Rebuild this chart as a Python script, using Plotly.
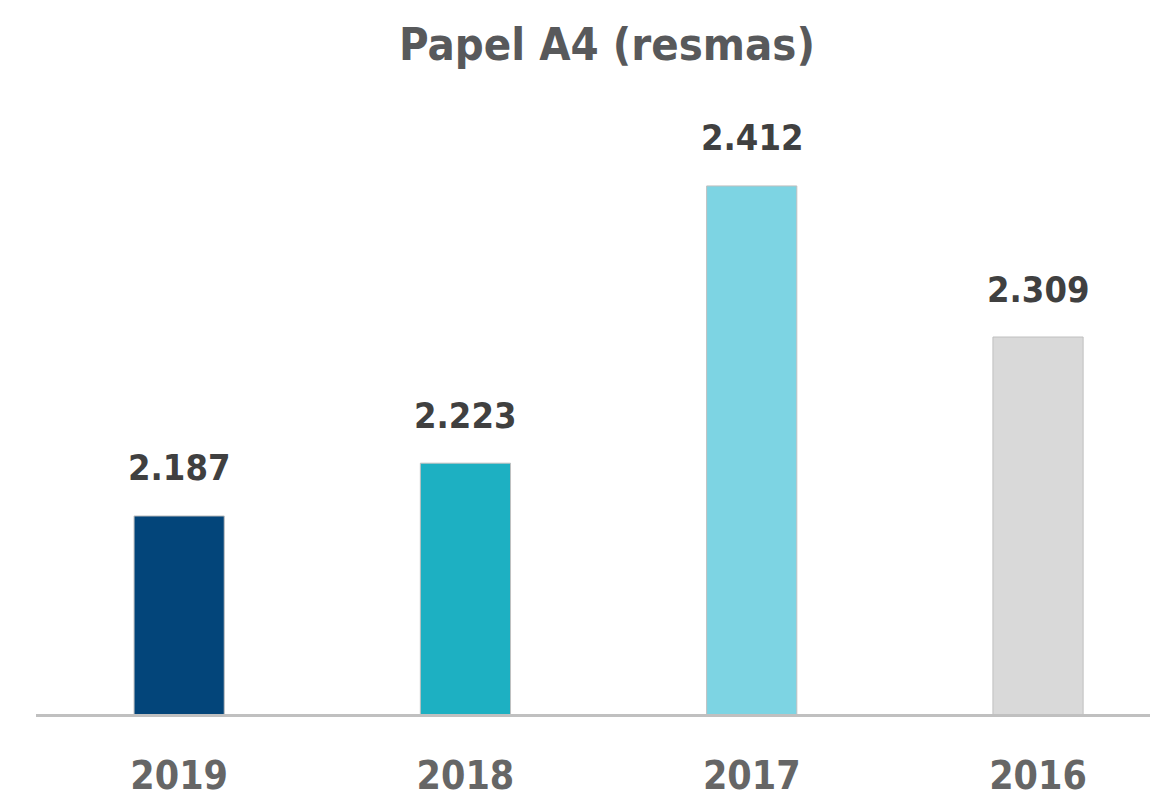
import plotly.graph_objects as go

categories = ["2019", "2018", "2017", "2016"]
values = [2187, 2223, 2412, 2309]
value_labels = ["2.187", "2.223", "2.412", "2.309"]
bar_colors = ["#03457a", "#1db0c2", "#7dd4e3", "#d9d9d9"]
title_text = "Papel A4 (resmas)"

FONT = "DejaVu Sans Condensed, Liberation Sans Narrow, Arial Narrow, sans-serif"

fig = go.Figure(
    go.Bar(
        x=categories,
        y=values,
        marker=dict(color=bar_colors, line=dict(color="#bfbfbf", width=1)),
        width=0.315,
        hoverinfo="x+y",
    )
)

# value labels above bars (x given as category index)
for i, (v, t) in enumerate(zip(values, value_labels)):
    fig.add_annotation(
        x=i, y=v, xref="x", yref="y",
        text="<b>" + t + "</b>", showarrow=False,
        xanchor="center", yanchor="middle", yshift=48,
        font=dict(family=FONT, size=36, color="#404040"),
    )

fig.update_layout(
    width=1158,
    height=796,
    paper_bgcolor="white",
    plot_bgcolor="white",
    margin=dict(l=28, r=0, t=92, b=90, autoexpand=False),
    showlegend=False,
    title=dict(
        text="<b>" + title_text + "</b>",
        x=(599 / 1158),
        xanchor="center",
        y=0.955,
        yanchor="middle",
        font=dict(family=FONT, size=45, color="#58595b"),
    ),
)

fig.update_xaxes(
    type="category",
    range=[-0.5, 3.447],
    automargin=False,
    showgrid=False,
    showline=True,
    linecolor="#c0c0c0",
    linewidth=3,
    ticks="",
    ticklabelstandoff=25,
    tickfont=dict(family=FONT, size=39, color="#666666", weight="bold"),
)

fig.update_yaxes(
    range=[2052, 2470.6],
    automargin=False,
    showgrid=False,
    zeroline=False,
    showticklabels=False,
    showline=False,
)

fig.write_html("out.html")
